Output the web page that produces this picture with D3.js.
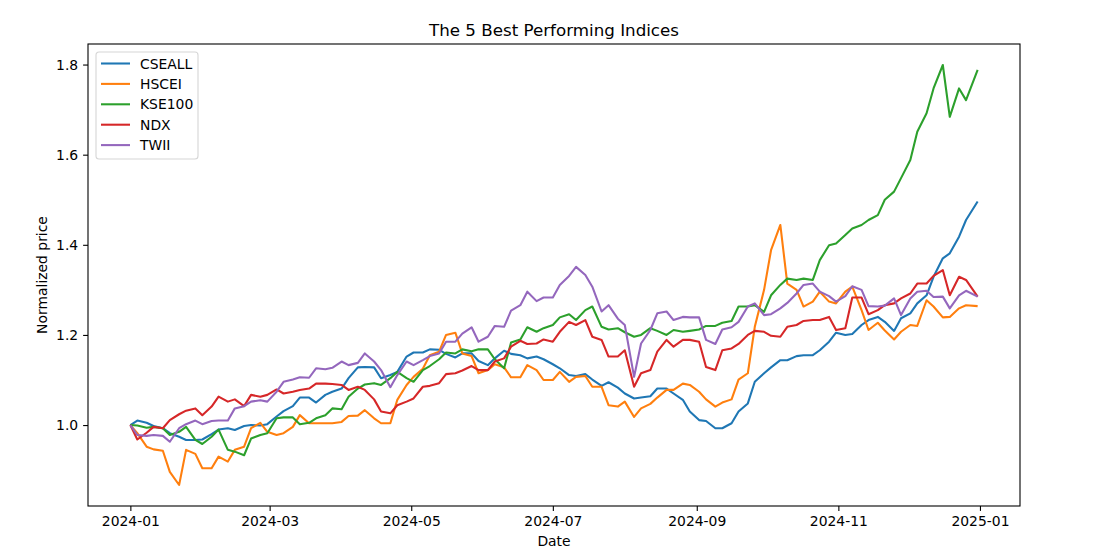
<!DOCTYPE html>
<html>
<head>
<meta charset="utf-8">
<script src="https://cdn.jsdelivr.net/npm/d3@7"></script>
<style>
  body { margin: 0; background: #fff; }
  svg text { font-family: "DejaVu Sans", sans-serif; fill: #000; }
</style>
</head>
<body>
<div id="container"></div>
<script>
const w = 1095
const h = 556
const margin = { left: 88, right: 75, top: 44, bottom: 50 }

// sample dates (Mondays and Thursdays, plus the last day of the year)
const dates = [
  '2024-01-01','2024-01-04','2024-01-08','2024-01-11','2024-01-15','2024-01-18','2024-01-22','2024-01-25','2024-01-29',
  '2024-02-01','2024-02-05','2024-02-08','2024-02-12','2024-02-15','2024-02-19','2024-02-22','2024-02-26','2024-02-29',
  '2024-03-04','2024-03-07','2024-03-11','2024-03-14','2024-03-18','2024-03-21','2024-03-25','2024-03-28',
  '2024-04-01','2024-04-04','2024-04-08','2024-04-11','2024-04-15','2024-04-18','2024-04-22','2024-04-25','2024-04-29',
  '2024-05-02','2024-05-06','2024-05-09','2024-05-13','2024-05-16','2024-05-20','2024-05-23','2024-05-27','2024-05-30',
  '2024-06-03','2024-06-06','2024-06-10','2024-06-13','2024-06-17','2024-06-20','2024-06-24','2024-06-27',
  '2024-07-01','2024-07-04','2024-07-08','2024-07-11','2024-07-15','2024-07-18','2024-07-22','2024-07-25','2024-07-29',
  '2024-08-01','2024-08-05','2024-08-08','2024-08-12','2024-08-15','2024-08-19','2024-08-22','2024-08-26','2024-08-29',
  '2024-09-02','2024-09-05','2024-09-09','2024-09-12','2024-09-16','2024-09-19','2024-09-23','2024-09-26','2024-09-30',
  '2024-10-03','2024-10-07','2024-10-10','2024-10-14','2024-10-17','2024-10-21','2024-10-24','2024-10-28','2024-10-31',
  '2024-11-04','2024-11-07','2024-11-11','2024-11-14','2024-11-18','2024-11-21','2024-11-25','2024-11-28',
  '2024-12-02','2024-12-05','2024-12-09','2024-12-12','2024-12-16','2024-12-19','2024-12-23','2024-12-26','2024-12-31'
]

const cseall = [
  1.000, 1.010, 1.005, 0.998, 0.993, 0.982, 0.974, 0.967, 0.967, 0.968, 0.980, 0.990, 0.993, 0.989, 0.998, 1.000, 0.999, 1.002, 1.019, 1.031, 1.042, 1.061, 1.061, 1.050, 1.067, 1.074,
  1.081, 1.104, 1.128, 1.129, 1.128, 1.104, 1.111, 1.118, 1.152, 1.161, 1.161, 1.168, 1.167, 1.158, 1.150, 1.159, 1.159, 1.142, 1.133, 1.148, 1.165, 1.158, 1.155, 1.148, 1.152,
  1.146, 1.135, 1.126, 1.111, 1.109, 1.113, 1.101, 1.087, 1.095, 1.083, 1.070, 1.059, 1.061, 1.064, 1.081, 1.081, 1.070, 1.056, 1.030, 1.011, 1.009, 0.993, 0.993, 1.004, 1.030,
  1.048, 1.096, 1.115, 1.128, 1.144, 1.144, 1.153, 1.155, 1.155, 1.166, 1.185, 1.205, 1.200, 1.202, 1.222, 1.233, 1.240, 1.229,
  1.209, 1.237, 1.248, 1.270, 1.288, 1.329, 1.370, 1.381, 1.418, 1.455, 1.496
]
const hscei = [
  1.000, 0.982, 0.952, 0.946, 0.943, 0.896, 0.867, 0.945, 0.936, 0.904, 0.904, 0.930, 0.919, 0.945, 0.952, 0.993, 1.005, 0.985, 0.978, 0.982, 0.996, 1.022, 1.004, 1.004, 1.004, 1.004,
  1.007, 1.020, 1.021, 1.033, 1.015, 1.004, 1.004, 1.056, 1.089, 1.107, 1.125, 1.155, 1.163, 1.200, 1.205, 1.159, 1.153, 1.115, 1.122, 1.135, 1.128, 1.106, 1.106, 1.133, 1.122,
  1.100, 1.100, 1.118, 1.096, 1.107, 1.109, 1.085, 1.085, 1.044, 1.041, 1.052, 1.018, 1.037, 1.047, 1.061, 1.078, 1.078, 1.092, 1.089, 1.074, 1.057, 1.041, 1.050, 1.057, 1.101,
  1.115, 1.218, 1.300, 1.388, 1.444, 1.314, 1.300, 1.263, 1.274, 1.296, 1.274, 1.270, 1.296, 1.307, 1.255, 1.211, 1.227, 1.210,
  1.190, 1.207, 1.222, 1.220, 1.277, 1.263, 1.239, 1.240, 1.259, 1.266, 1.264
]
const kse100 = [
  1.000, 0.999, 0.994, 0.996, 0.993, 0.978, 0.985, 0.996, 0.967, 0.958, 0.974, 0.990, 0.945, 0.941, 0.933, 0.970, 0.978, 0.982, 1.015, 1.017, 1.017, 1.002, 1.005, 1.015, 1.022, 1.037,
  1.035, 1.063, 1.081, 1.090, 1.093, 1.089, 1.104, 1.118, 1.104, 1.096, 1.122, 1.131, 1.146, 1.161, 1.159, 1.168, 1.164, 1.168, 1.168, 1.146, 1.126, 1.183, 1.190, 1.217, 1.207,
  1.215, 1.222, 1.239, 1.246, 1.233, 1.255, 1.263, 1.218, 1.212, 1.215, 1.206, 1.196, 1.200, 1.215, 1.209, 1.200, 1.211, 1.207, 1.209, 1.212, 1.220, 1.220, 1.227, 1.231, 1.263,
  1.263, 1.266, 1.251, 1.288, 1.311, 1.325, 1.322, 1.325, 1.322, 1.366, 1.399, 1.403, 1.422, 1.436, 1.444, 1.455, 1.466, 1.500,
  1.518, 1.548, 1.588, 1.651, 1.692, 1.747, 1.799, 1.684, 1.747, 1.721, 1.788
]
const ndx = [
  1.000, 0.968, 0.983, 0.996, 0.993, 1.011, 1.024, 1.032, 1.037, 1.022, 1.041, 1.063, 1.052, 1.057, 1.042, 1.067, 1.063, 1.067, 1.079, 1.070, 1.074, 1.078, 1.081, 1.092, 1.092, 1.091,
  1.089, 1.078, 1.085, 1.078, 1.057, 1.030, 1.026, 1.044, 1.052, 1.059, 1.085, 1.087, 1.093, 1.113, 1.115, 1.121, 1.131, 1.122, 1.122, 1.141, 1.148, 1.174, 1.187, 1.180, 1.181,
  1.190, 1.185, 1.207, 1.229, 1.222, 1.233, 1.196, 1.189, 1.152, 1.152, 1.166, 1.085, 1.115, 1.122, 1.163, 1.189, 1.174, 1.189, 1.189, 1.185, 1.129, 1.122, 1.166, 1.170, 1.180,
  1.200, 1.209, 1.207, 1.198, 1.196, 1.218, 1.222, 1.231, 1.233, 1.233, 1.240, 1.211, 1.215, 1.283, 1.283, 1.246, 1.255, 1.266,
  1.270, 1.281, 1.292, 1.314, 1.314, 1.331, 1.344, 1.288, 1.329, 1.322, 1.285
]
const twii = [
  1.000, 0.978, 0.976, 0.978, 0.976, 0.963, 0.993, 1.002, 1.010, 1.002, 1.009, 1.010, 1.010, 1.037, 1.042, 1.052, 1.055, 1.052, 1.074, 1.096, 1.101, 1.106, 1.105, 1.126, 1.124, 1.127,
  1.141, 1.133, 1.138, 1.159, 1.141, 1.122, 1.084, 1.111, 1.141, 1.133, 1.144, 1.153, 1.159, 1.185, 1.185, 1.203, 1.217, 1.185, 1.196, 1.220, 1.218, 1.254, 1.266, 1.296, 1.275,
  1.283, 1.283, 1.311, 1.331, 1.351, 1.333, 1.307, 1.252, 1.266, 1.236, 1.222, 1.107, 1.181, 1.211, 1.248, 1.252, 1.233, 1.240, 1.239, 1.239, 1.189, 1.180, 1.212, 1.217, 1.229,
  1.263, 1.270, 1.244, 1.246, 1.259, 1.271, 1.292, 1.311, 1.314, 1.296, 1.286, 1.274, 1.286, 1.308, 1.300, 1.264, 1.263, 1.265,
  1.281, 1.244, 1.281, 1.296, 1.298, 1.284, 1.285, 1.259, 1.288, 1.298, 1.285
]

const names = ['CSEALL', 'HSCEI', 'KSE100', 'NDX', 'TWII']
const colors = ['#1f77b4', '#ff7f0e', '#2ca02c', '#d62728', '#9467bd']
const xTicks = ['2024-01', '2024-03', '2024-05', '2024-07', '2024-09', '2024-11', '2025-01']
const yTicks = [1.0, 1.2, 1.4, 1.6, 1.8]

const parse = d3.utcParse('%Y-%m-%d')
const parseMonth = d3.utcParse('%Y-%m')
const dateObjs = dates.map(parse)
const series = [cseall, hscei, kse100, ndx, twii].map((vals, i) => ({
  name: names[i],
  color: colors[i],
  points: vals.map((v, j) => [dateObjs[j], v])
}))

const svg = d3.select('#container')
              .append('svg')
              .attr('width', w)
              .attr('height', h)

// matplotlib-like 5% margins
const xExt = d3.extent(dateObjs)
const xPad = (xExt[1] - xExt[0]) * 0.05
const allVals = [].concat(cseall, hscei, kse100, ndx, twii)
const yExt = d3.extent(allVals)
const yPad = (yExt[1] - yExt[0]) * 0.05

const xScale = d3.scaleUtc()
                 .domain([new Date(+xExt[0] - xPad), new Date(+xExt[1] + xPad)])
                 .range([margin.left, w - margin.right])
const yScale = d3.scaleLinear()
                 .domain([yExt[0] - yPad, yExt[1] + yPad])
                 .range([h - margin.bottom, margin.top])

// Axes
const xAxis = d3.axisBottom(xScale)
                .tickValues(xTicks.map(parseMonth))
                .tickFormat(d3.utcFormat('%Y-%m'))
                .tickSize(4.9)
                .tickPadding(4.9)
const yAxis = d3.axisLeft(yScale)
                .tickValues(yTicks)
                .tickFormat(d3.format('.1f'))
                .tickSize(4.9)
                .tickPadding(4.9)

const gx = svg.append('g')
   .attr('transform', 'translate(0, ' + (h - margin.bottom) + ')')
   .call(xAxis)
const gy = svg.append('g')
   .attr('transform', 'translate(' + margin.left + ', 0)')
   .call(yAxis)
;[gx, gy].forEach(g => {
  g.select('.domain').remove()
  g.selectAll('line').attr('stroke', '#000').attr('stroke-width', 1.1)
  g.selectAll('text').attr('font-size', 13.9).attr('font-family', 'DejaVu Sans')
})

// Lines
const line = d3.line()
               .x(d => xScale(d[0]))
               .y(d => yScale(d[1]))
const plot = svg.append('g')
series.forEach(s => {
  plot.append('path')
      .datum(s.points)
      .attr('fill', 'none')
      .attr('stroke', s.color)
      .attr('stroke-width', 2.08)
      .attr('stroke-linejoin', 'round')
      .attr('d', line)
})

// Frame
svg.append('rect')
   .attr('x', margin.left)
   .attr('y', margin.top)
   .attr('width', w - margin.left - margin.right)
   .attr('height', h - margin.top - margin.bottom)
   .attr('fill', 'none')
   .attr('stroke', '#000')
   .attr('stroke-width', 1.1)

// Title and labels
svg.append('text')
   .attr('x', (margin.left + w - margin.right) / 2)
   .attr('y', 36)
   .attr('text-anchor', 'middle')
   .attr('font-size', 16.7)
   .text('The 5 Best Performing Indices')
svg.append('text')
   .attr('x', (margin.left + w - margin.right) / 2)
   .attr('y', 546)
   .attr('text-anchor', 'middle')
   .attr('font-size', 13.9)
   .text('Date')
svg.append('text')
   .attr('transform', 'translate(47,' + ((margin.top + h - margin.bottom) / 2) + ') rotate(-90)')
   .attr('text-anchor', 'middle')
   .attr('font-size', 13.9)
   .text('Normalized price')

// Legend
const legend = svg.append('g').attr('transform', 'translate(96, 52)')
legend.append('rect')
      .attr('width', 102)
      .attr('height', 107)
      .attr('rx', 3)
      .attr('fill', 'rgba(255,255,255,0.8)')
      .attr('stroke', '#d6d6d6')
      .attr('stroke-width', 1.1)
series.forEach((s, i) => {
  const yy = 11.5 + i * 20.4
  legend.append('line')
        .attr('x1', 5).attr('x2', 34)
        .attr('y1', yy).attr('y2', yy)
        .attr('stroke', s.color)
        .attr('stroke-width', 2.08)
  legend.append('text')
        .attr('x', 44)
        .attr('y', yy + 5)
        .attr('font-size', 13.9)
        .text(s.name)
})
</script>
</body>
</html>
